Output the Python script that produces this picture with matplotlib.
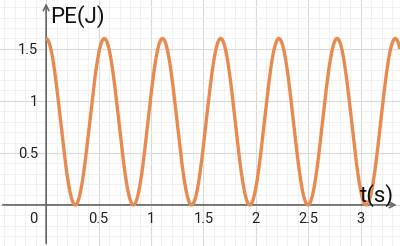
import numpy as np
import matplotlib
matplotlib.use("Agg")
import matplotlib.pyplot as plt

plt.rcParams['font.family'] = ['Roboto', 'DejaVu Sans']

# Data
amplitude = 1.6        # peak PE in J
period = 0.555         # period of the PE oscillation in s
x_ticks = [0.5, 1, 1.5, 2, 2.5, 3]
x_tick_labels = ["0.5", "1", "1.5", "2", "2.5", "3"]
y_ticks = [0.5, 1, 1.5]
y_tick_labels = ["0.5", "1", "1.5"]

xmin, xmax = -0.44, 3.375
ymin, ymax = -0.395, 1.97

fig = plt.figure(figsize=(4, 2.46), dpi=100)
ax = fig.add_axes([0, 0, 1, 1])
ax.set_xlim(xmin, xmax)
ax.set_ylim(ymin, ymax)
for s in ax.spines.values():
    s.set_visible(False)
ax.set_xticks([])
ax.set_yticks([])

# grid
for v in np.arange(-0.4, 3.41, 0.1):
    major = abs(v / 0.5 - round(v / 0.5)) < 1e-6
    ax.axvline(v, color="#d9d9d9" if major else "#efefef", lw=0.8 if major else 0.6, zorder=0)
for v in np.arange(-0.3, 2.01, 0.1):
    major = abs(v / 0.5 - round(v / 0.5)) < 1e-6
    ax.axhline(v, color="#d9d9d9" if major else "#efefef", lw=0.8 if major else 0.6, zorder=0)

# axes with arrows
ax.annotate("", xy=(xmax - 0.005, 0), xytext=(xmin, 0),
            arrowprops=dict(arrowstyle="->", color="#666666", lw=1.2, mutation_scale=10))
ax.annotate("", xy=(0, ymax - 0.005), xytext=(0, ymin),
            arrowprops=dict(arrowstyle="->", color="#666666", lw=1.2, mutation_scale=10))

# curve
t = np.linspace(0, xmax, 2000)
pe = amplitude * np.cos(np.pi * t / period) ** 2
ax.plot(t, pe, color="#e68a4f", lw=2.4, zorder=3, solid_capstyle="butt")

# tick labels
for v, lab in zip(x_ticks, x_tick_labels):
    ax.text(v, -0.135, lab, ha="center", va="center", fontsize=10.5, color="#222222")
ax.text(-0.125, -0.135, "0", ha="center", va="center", fontsize=10.5, color="#222222")
for v, lab in zip(y_ticks, y_tick_labels):
    ax.text(-0.077, v - 0.01, lab, ha="right", va="center", fontsize=10.5, color="#222222")

ax.text(0.035, 1.81, "PE(J)", ha="left", va="center", fontsize=16, color="#111111")
ax.text(3.155, 0.09, "t(s)", ha="center", va="center", fontsize=16, color="#111111")

fig.savefig("out.png", dpi=100)
